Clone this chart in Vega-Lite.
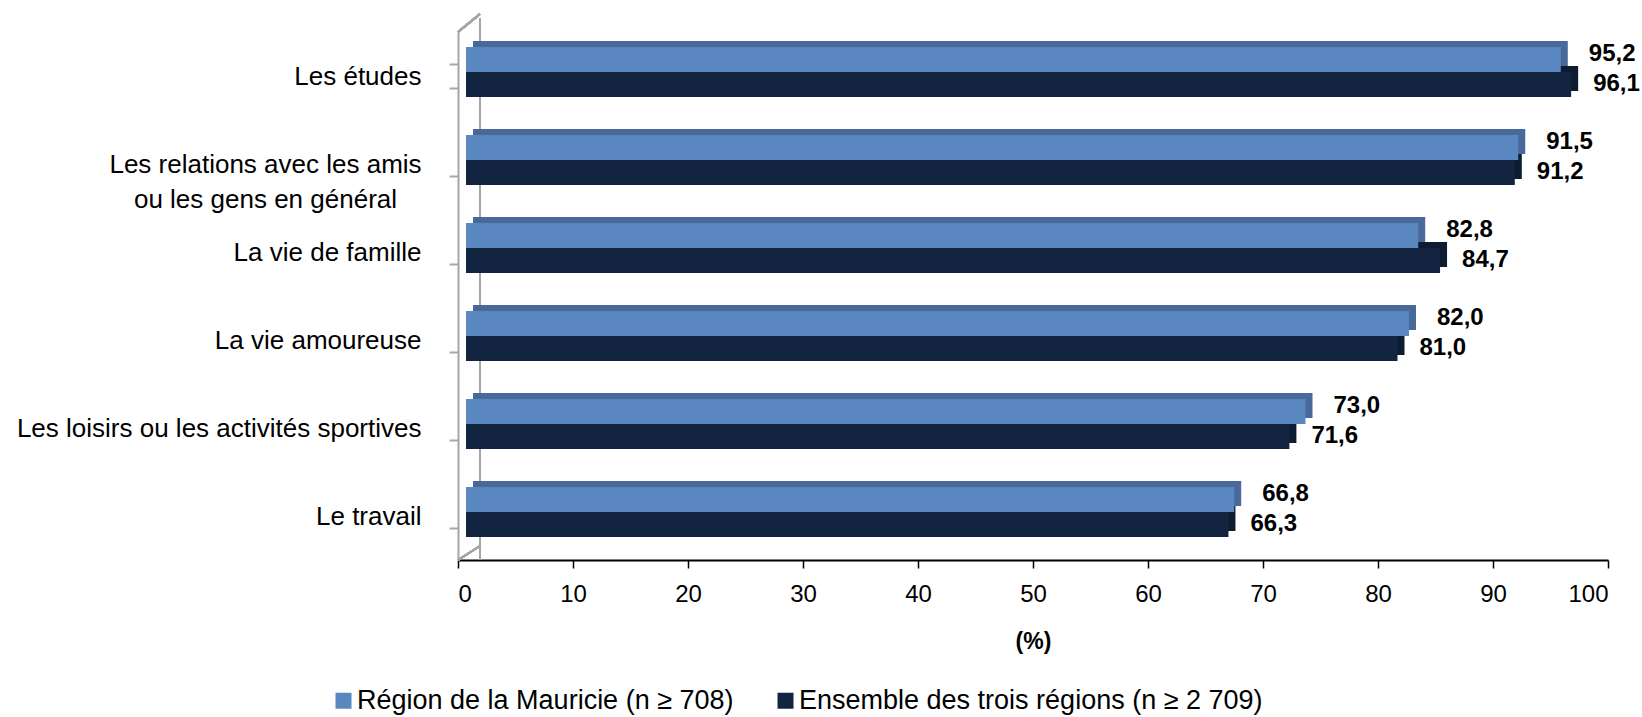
{
  "$schema": "https://vega.github.io/schema/vega-lite/v6.json",
  "autosize": {"type": "none"},
  "width": 1150,
  "height": 528,
  "padding": {"left": 458, "top": 32, "right": 34, "bottom": 157},
  "config": {
    "view": {"stroke": null},
    "font": "Liberation Sans",
    "locale": {"number": {"decimal": ",", "thousands": "\u00a0", "grouping": [3], "currency": ["", " $"]}}
  },
  "data": {
    "values": [
      {"cat": "Les études", "serie": "Région de la Mauricie (n ≥ 708)", "value": 95.2},
      {"cat": "Les études", "serie": "Ensemble des trois régions (n ≥ 2 709)", "value": 96.1},
      {"cat": "Les relations avec les amis|ou les gens en général", "serie": "Région de la Mauricie (n ≥ 708)", "value": 91.5},
      {"cat": "Les relations avec les amis|ou les gens en général", "serie": "Ensemble des trois régions (n ≥ 2 709)", "value": 91.2},
      {"cat": "La vie de famille", "serie": "Région de la Mauricie (n ≥ 708)", "value": 82.8},
      {"cat": "La vie de famille", "serie": "Ensemble des trois régions (n ≥ 2 709)", "value": 84.7},
      {"cat": "La vie amoureuse", "serie": "Région de la Mauricie (n ≥ 708)", "value": 82.0},
      {"cat": "La vie amoureuse", "serie": "Ensemble des trois régions (n ≥ 2 709)", "value": 81.0},
      {"cat": "Les loisirs ou les activités sportives", "serie": "Région de la Mauricie (n ≥ 708)", "value": 73.0},
      {"cat": "Les loisirs ou les activités sportives", "serie": "Ensemble des trois régions (n ≥ 2 709)", "value": 71.6},
      {"cat": "Le travail", "serie": "Région de la Mauricie (n ≥ 708)", "value": 66.8},
      {"cat": "Le travail", "serie": "Ensemble des trois régions (n ≥ 2 709)", "value": 66.3}
    ]
  },
  "resolve": {"scale": {"y": "independent"}, "axis": {"y": "independent"}},
  "layer": [
    {
      "layer": [
        {
          "mark": {"type": "rule", "color": "#A6A6A6", "strokeWidth": 2, "xOffset": 22, "yOffset": -14},
          "encoding": {"x": {"datum": 0, "type": "quantitative"}}
        },
        {
          "mark": {"type": "rule", "color": "#A6A6A6", "strokeWidth": 2, "x2Offset": 22, "y2Offset": -18},
          "encoding": {
            "x": {"datum": 0, "type": "quantitative"},
            "x2": {"datum": 0},
            "y": {"datum": 1, "type": "quantitative", "scale": {"domain": [0, 1]}, "axis": null},
            "y2": {"datum": 1}
          }
        },
        {
          "mark": {"type": "rule", "color": "#A6A6A6", "strokeWidth": 2, "x2Offset": 22, "y2Offset": -14},
          "encoding": {
            "x": {"datum": 0, "type": "quantitative"},
            "x2": {"datum": 0},
            "y": {"datum": 0, "type": "quantitative", "scale": {"domain": [0, 1]}, "axis": null},
            "y2": {"datum": 0}
          }
        }
      ]
    },
    {
      "layer": [
        {
          "transform": [{"filter": "datum.serie == 'Ensemble des trois régions (n ≥ 2 709)'"}],
          "mark": {"type": "bar", "color": "#0D1C31", "xOffset": 15, "x2Offset": 15, "yOffset": 2.5, "y2Offset": 2.5},
          "encoding": {
            "x": {"field": "value", "type": "quantitative"},
            "y": {"field": "cat", "type": "nominal"}
          }
        },
        {
          "transform": [{"filter": "datum.serie == 'Ensemble des trois régions (n ≥ 2 709)'"}],
          "mark": {"type": "bar", "xOffset": 8, "x2Offset": 8, "yOffset": 8.5, "y2Offset": 8.5},
          "encoding": {
            "x": {"field": "value", "type": "quantitative"},
            "y": {"field": "cat", "type": "nominal"},
            "color": {"field": "serie", "type": "nominal"}
          }
        },
        {
          "transform": [{"filter": "datum.serie == 'Région de la Mauricie (n ≥ 708)'"}],
          "mark": {"type": "bar", "color": "#48699A", "xOffset": 15, "x2Offset": 15, "yOffset": -22.5, "y2Offset": -22.5},
          "encoding": {
            "x": {"field": "value", "type": "quantitative"},
            "y": {"field": "cat", "type": "nominal"}
          }
        },
        {
          "transform": [{"filter": "datum.serie == 'Région de la Mauricie (n ≥ 708)'"}],
          "mark": {"type": "bar", "xOffset": 8, "x2Offset": 8, "yOffset": -16.5, "y2Offset": -16.5},
          "encoding": {
            "x": {
              "field": "value", "type": "quantitative",
              "scale": {"domain": [0, 100]},
              "axis": {
                "values": [0, 10, 20, 30, 40, 50, 60, 70, 80, 90, 100],
                "grid": false,
                "domainColor": "#000000", "domainWidth": 2,
                "tickColor": "#000000", "tickWidth": 1.5, "tickSize": 8,
                "labelFontSize": 24, "labelColor": "#000000", "labelPadding": 14,
                "title": "(%)", "titleFontSize": 23, "titleFontWeight": "bold", "titleColor": "#000000", "titlePadding": 24
              }
            },
            "y": {
              "field": "cat", "type": "nominal",
              "scale": {
                "domain": ["Les études", "Les relations avec les amis|ou les gens en général", "La vie de famille", "La vie amoureuse", "Les loisirs ou les activités sportives", "Le travail"],
                "paddingInner": 0.716, "paddingOuter": 0.358
              },
              "axis": {
                "title": null,
                "labelExpr": "split(datum.label, '|')",
                "labelFontSize": 26, "labelColor": "#000000", "labelLimit": 0, "labelLineHeight": 35,
                "labelPadding": {"condition": {"test": "datum.value == 'Les relations avec les amis|ou les gens en général'", "value": 184}, "value": 28},
                "labelAlign": {"condition": {"test": "datum.value == 'Les relations avec les amis|ou les gens en général'", "value": "center"}, "value": "right"},
                "domainColor": "#A6A6A6", "domainWidth": 2,
                "tickColor": "#A6A6A6", "tickWidth": 2, "tickSize": 9, "tickBand": "extent"
              }
            },
            "color": {
              "field": "serie", "type": "nominal",
              "scale": {"domain": ["Région de la Mauricie (n ≥ 708)", "Ensemble des trois régions (n ≥ 2 709)"], "range": ["#5B87C0", "#12243F"]},
              "legend": {
                "title": null, "orient": "none", "legendX": -128, "legendY": 655, "direction": "horizontal",
                "symbolType": "square", "symbolSize": 256, "symbolStrokeWidth": 0,
                "labelFontSize": 27, "labelColor": "#000000", "labelLimit": 0, "labelOffset": 0, "columnPadding": 38
              }
            }
          }
        },
        {
          "transform": [{"filter": "datum.serie == 'Région de la Mauricie (n ≥ 708)'"}],
          "mark": {"type": "text", "align": "left", "baseline": "middle", "dx": 36, "yOffset": -22.5, "fontSize": 24, "fontWeight": "bold", "color": "#000000"},
          "encoding": {
            "x": {"field": "value", "type": "quantitative"},
            "y": {"field": "cat", "type": "nominal"},
            "text": {"field": "value", "type": "quantitative", "format": ".1f"}
          }
        },
        {
          "transform": [{"filter": "datum.serie == 'Ensemble des trois régions (n ≥ 2 709)'"}],
          "mark": {"type": "text", "align": "left", "baseline": "middle", "dx": 30, "yOffset": 7.5, "fontSize": 24, "fontWeight": "bold", "color": "#000000"},
          "encoding": {
            "x": {"field": "value", "type": "quantitative"},
            "y": {"field": "cat", "type": "nominal"},
            "text": {"field": "value", "type": "quantitative", "format": ".1f"}
          }
        }
      ]
    }
  ]
}
